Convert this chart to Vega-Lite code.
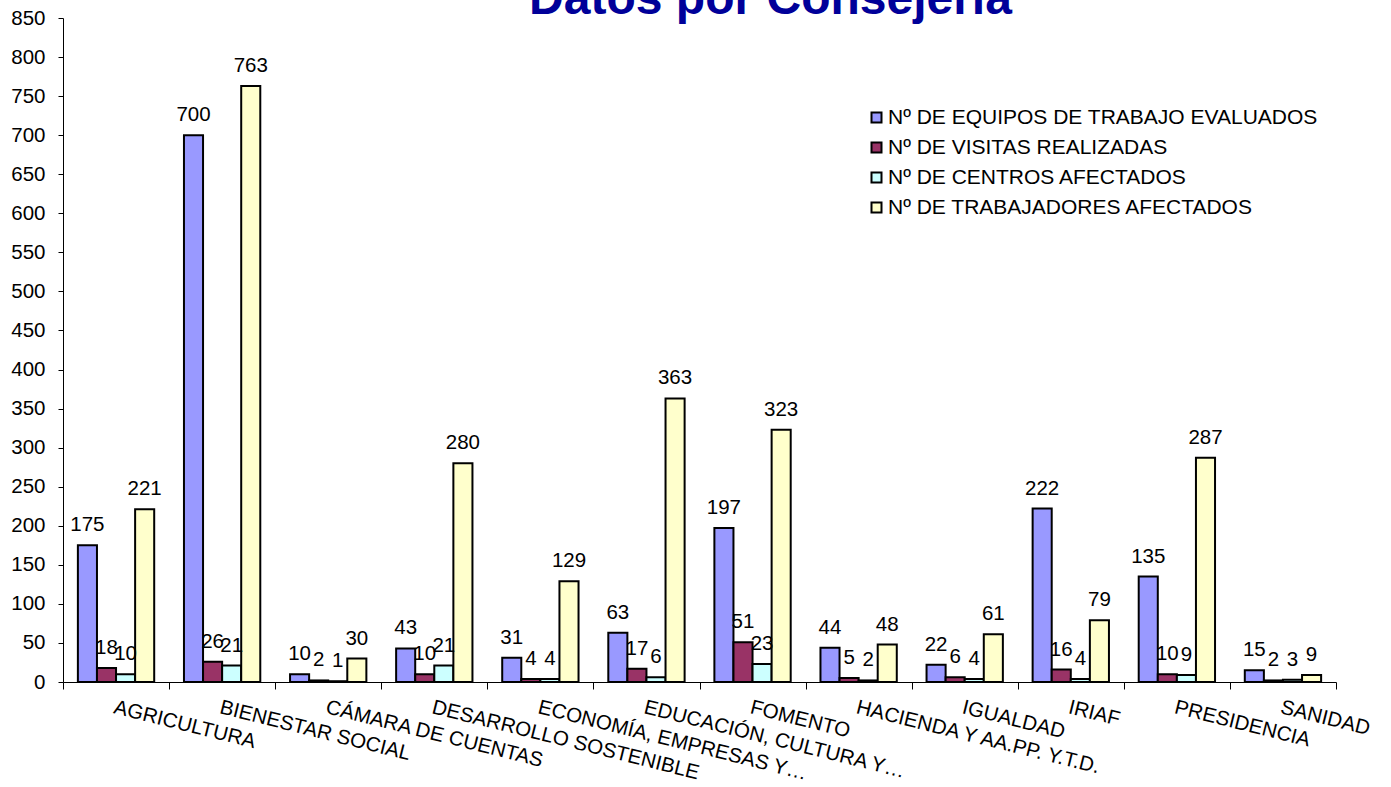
{
  "$schema": "https://vega.github.io/schema/vega-lite/v6.json",
  "width": 1273,
  "height": 664,
  "autosize": "none",
  "padding": {"left": 63, "top": 18, "right": 55, "bottom": 105},
  "background": "white",
  "title": {
    "text": "Datos por Consejería",
    "font": "Liberation Sans",
    "fontSize": 48,
    "fontWeight": "bold",
    "color": "#000099",
    "anchor": "middle",
    "baseline": "alphabetic",
    "offset": 1,
    "dx": 71,
    "dy": 55
  },
  "config": {
    "view": {"stroke": null},
    "font": "Liberation Sans",
    "axis": {"labelFont": "Liberation Sans", "labelColor": "black", "domainColor": "black", "tickColor": "black", "grid": false}
  },
  "data": {
    "values": [
      {"cat": "AGRICULTURA", "serie": "Nº DE EQUIPOS DE TRABAJO EVALUADOS", "value": 175},
      {"cat": "AGRICULTURA", "serie": "Nº DE VISITAS REALIZADAS", "value": 18},
      {"cat": "AGRICULTURA", "serie": "Nº DE CENTROS AFECTADOS", "value": 10},
      {"cat": "AGRICULTURA", "serie": "Nº DE TRABAJADORES AFECTADOS", "value": 221},
      {"cat": "BIENESTAR SOCIAL", "serie": "Nº DE EQUIPOS DE TRABAJO EVALUADOS", "value": 700},
      {"cat": "BIENESTAR SOCIAL", "serie": "Nº DE VISITAS REALIZADAS", "value": 26},
      {"cat": "BIENESTAR SOCIAL", "serie": "Nº DE CENTROS AFECTADOS", "value": 21},
      {"cat": "BIENESTAR SOCIAL", "serie": "Nº DE TRABAJADORES AFECTADOS", "value": 763},
      {"cat": "CÁMARA DE CUENTAS", "serie": "Nº DE EQUIPOS DE TRABAJO EVALUADOS", "value": 10},
      {"cat": "CÁMARA DE CUENTAS", "serie": "Nº DE VISITAS REALIZADAS", "value": 2},
      {"cat": "CÁMARA DE CUENTAS", "serie": "Nº DE CENTROS AFECTADOS", "value": 1},
      {"cat": "CÁMARA DE CUENTAS", "serie": "Nº DE TRABAJADORES AFECTADOS", "value": 30},
      {"cat": "DESARROLLO SOSTENIBLE", "serie": "Nº DE EQUIPOS DE TRABAJO EVALUADOS", "value": 43},
      {"cat": "DESARROLLO SOSTENIBLE", "serie": "Nº DE VISITAS REALIZADAS", "value": 10},
      {"cat": "DESARROLLO SOSTENIBLE", "serie": "Nº DE CENTROS AFECTADOS", "value": 21},
      {"cat": "DESARROLLO SOSTENIBLE", "serie": "Nº DE TRABAJADORES AFECTADOS", "value": 280},
      {"cat": "ECONOMÍA, EMPRESAS Y…", "serie": "Nº DE EQUIPOS DE TRABAJO EVALUADOS", "value": 31},
      {"cat": "ECONOMÍA, EMPRESAS Y…", "serie": "Nº DE VISITAS REALIZADAS", "value": 4},
      {"cat": "ECONOMÍA, EMPRESAS Y…", "serie": "Nº DE CENTROS AFECTADOS", "value": 4},
      {"cat": "ECONOMÍA, EMPRESAS Y…", "serie": "Nº DE TRABAJADORES AFECTADOS", "value": 129},
      {"cat": "EDUCACIÓN, CULTURA Y…", "serie": "Nº DE EQUIPOS DE TRABAJO EVALUADOS", "value": 63},
      {"cat": "EDUCACIÓN, CULTURA Y…", "serie": "Nº DE VISITAS REALIZADAS", "value": 17},
      {"cat": "EDUCACIÓN, CULTURA Y…", "serie": "Nº DE CENTROS AFECTADOS", "value": 6},
      {"cat": "EDUCACIÓN, CULTURA Y…", "serie": "Nº DE TRABAJADORES AFECTADOS", "value": 363},
      {"cat": "FOMENTO", "serie": "Nº DE EQUIPOS DE TRABAJO EVALUADOS", "value": 197},
      {"cat": "FOMENTO", "serie": "Nº DE VISITAS REALIZADAS", "value": 51},
      {"cat": "FOMENTO", "serie": "Nº DE CENTROS AFECTADOS", "value": 23},
      {"cat": "FOMENTO", "serie": "Nº DE TRABAJADORES AFECTADOS", "value": 323},
      {"cat": "HACIENDA Y AA.PP. Y.T.D.", "serie": "Nº DE EQUIPOS DE TRABAJO EVALUADOS", "value": 44},
      {"cat": "HACIENDA Y AA.PP. Y.T.D.", "serie": "Nº DE VISITAS REALIZADAS", "value": 5},
      {"cat": "HACIENDA Y AA.PP. Y.T.D.", "serie": "Nº DE CENTROS AFECTADOS", "value": 2},
      {"cat": "HACIENDA Y AA.PP. Y.T.D.", "serie": "Nº DE TRABAJADORES AFECTADOS", "value": 48},
      {"cat": "IGUALDAD", "serie": "Nº DE EQUIPOS DE TRABAJO EVALUADOS", "value": 22},
      {"cat": "IGUALDAD", "serie": "Nº DE VISITAS REALIZADAS", "value": 6},
      {"cat": "IGUALDAD", "serie": "Nº DE CENTROS AFECTADOS", "value": 4},
      {"cat": "IGUALDAD", "serie": "Nº DE TRABAJADORES AFECTADOS", "value": 61},
      {"cat": "IRIAF", "serie": "Nº DE EQUIPOS DE TRABAJO EVALUADOS", "value": 222},
      {"cat": "IRIAF", "serie": "Nº DE VISITAS REALIZADAS", "value": 16},
      {"cat": "IRIAF", "serie": "Nº DE CENTROS AFECTADOS", "value": 4},
      {"cat": "IRIAF", "serie": "Nº DE TRABAJADORES AFECTADOS", "value": 79},
      {"cat": "PRESIDENCIA", "serie": "Nº DE EQUIPOS DE TRABAJO EVALUADOS", "value": 135},
      {"cat": "PRESIDENCIA", "serie": "Nº DE VISITAS REALIZADAS", "value": 10},
      {"cat": "PRESIDENCIA", "serie": "Nº DE CENTROS AFECTADOS", "value": 9},
      {"cat": "PRESIDENCIA", "serie": "Nº DE TRABAJADORES AFECTADOS", "value": 287},
      {"cat": "SANIDAD", "serie": "Nº DE EQUIPOS DE TRABAJO EVALUADOS", "value": 15},
      {"cat": "SANIDAD", "serie": "Nº DE VISITAS REALIZADAS", "value": 2},
      {"cat": "SANIDAD", "serie": "Nº DE CENTROS AFECTADOS", "value": 3},
      {"cat": "SANIDAD", "serie": "Nº DE TRABAJADORES AFECTADOS", "value": 9}
    ]
  },
  "encoding": {
    "x": {
      "field": "cat",
      "type": "nominal",
      "sort": null,
      "scale": {"paddingInner": 0, "paddingOuter": 0},
      "axis": {
        "title": null,
        "labelAngle": 14,
        "labelAlign": "left",
        "labelBaseline": "top",
        "labelFontSize": 20.5,
        "labelPadding": 8,
        "tickBand": "extent",
        "tickSize": 7,
        "labelOverlap": false,
        "labelLimit": 400
      }
    },
    "xOffset": {
      "field": "serie",
      "type": "nominal",
      "sort": null,
      "scale": {"paddingInner": 0, "paddingOuter": 0.78}
    },
    "y": {
      "field": "value",
      "type": "quantitative",
      "scale": {"domain": [0, 850], "nice": false},
      "axis": {
        "title": null,
        "values": [0, 50, 100, 150, 200, 250, 300, 350, 400, 450, 500, 550, 600, 650, 700, 750, 800, 850],
        "labelFontSize": 20.5,
        "tickSize": 5,
        "labelPadding": 13
      }
    }
  },
  "layer": [
    {
      "mark": {"type": "bar", "stroke": "black", "strokeWidth": 2},
      "encoding": {
        "color": {
          "field": "serie",
          "type": "nominal",
          "sort": null,
          "scale": {
            "domain": ["Nº DE EQUIPOS DE TRABAJO EVALUADOS", "Nº DE VISITAS REALIZADAS", "Nº DE CENTROS AFECTADOS", "Nº DE TRABAJADORES AFECTADOS"],
            "range": ["#9999FF", "#993366", "#CCFFFF", "#FFFFCC"]
          },
          "legend": {
            "title": null,
            "orient": "none",
            "legendX": 803,
            "legendY": 89,
            "padding": 0,
            "symbolType": "square",
            "symbolSize": 100,
            "symbolStrokeColor": "black",
            "symbolStrokeWidth": 2,
            "symbolOpacity": 1,
            "labelFontSize": 21,
            "labelFont": "Liberation Sans",
            "labelColor": "black",
            "labelOffset": 1,
            "labelLimit": 600,
            "rowPadding": 8
          }
        }
      }
    },
    {
      "mark": {"type": "text", "fontSize": 20.5, "font": "Liberation Sans", "color": "black", "baseline": "alphabetic", "dy": -14},
      "encoding": {
        "text": {"field": "value", "type": "quantitative"}
      }
    }
  ]
}
